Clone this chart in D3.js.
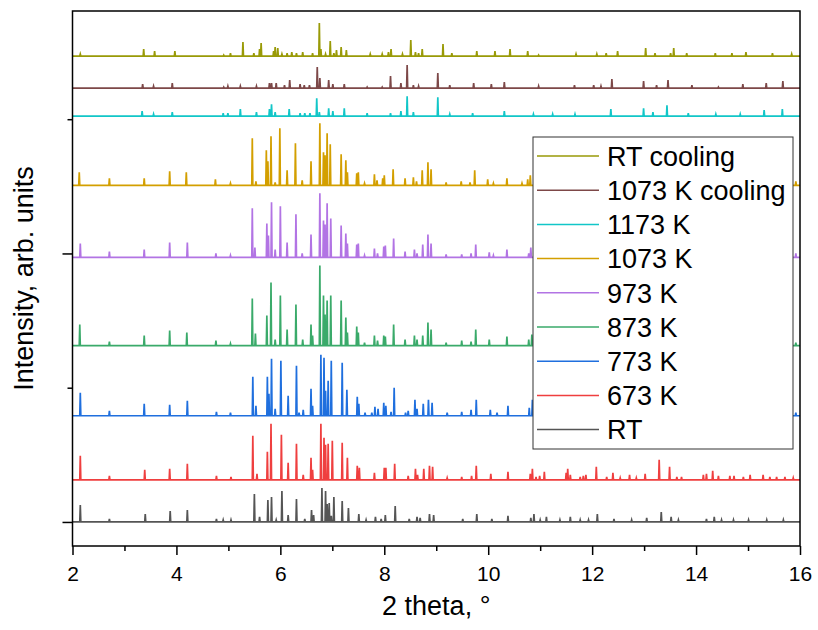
<!DOCTYPE html>
<html>
<head>
<meta charset="utf-8">
<script src="https://cdn.jsdelivr.net/npm/d3@7"></script>
<style>
  body { margin: 0; background: #fff; }
  svg { font-family: Arial, "Liberation Sans", sans-serif; }
</style>
</head>
<body>
<svg id="xrd" width="818" height="630"></svg>
<script>
const names = ["RT", "673 K", "773 K", "873 K", "973 K", "1073 K", "1173 K", "1073 K cooling", "RT cooling"];
const colors = ["#555555", "#ef3f3f", "#1f6fde", "#3aaa6a", "#b274e4", "#d39f00", "#12c6c8", "#7d4848", "#999a07"];
// baseline offset of every pattern (stacked)
const offsets = [0, 42, 106, 176, 264, 336, 405, 433, 465];

// [2theta, peak height]
const rt = [[2.15,17],[2.71,3],[3.40,8],[3.88,11],[4.21,12],[4.77,3],[4.90,2],[5.05,2],[5.50,28],[5.60,5],[5.76,22],[5.83,25],[5.92,2],[6.03,31],[6.15,7],[6.31,23],[6.47,3],[6.60,12],[6.64,7],[6.80,34],[6.87,31],[6.90,18],[6.94,19],[6.98,6],[7.03,25],[7.19,21],[7.31,14],[7.51,8],[7.65,2],[7.83,5],[7.94,3],[8.02,7],[8.21,16],[8.48,3],[8.63,5],[8.69,4],[8.87,8],[8.95,7],[9.51,3],[9.78,8],[10.07,3],[10.38,6],[10.82,4],[10.88,8],[11.00,2],[11.12,5],[11.38,2],[11.58,5],[11.77,2],[11.93,2],[12.10,8],[12.42,3],[12.76,2],[13.05,4],[13.33,10],[13.52,5],[13.66,2],[14.20,3],[14.35,5],[14.49,2],[14.72,2],[15.01,2],[15.36,2],[15.68,2]];
const k673 = [[2.15,24],[2.71,4],[3.39,10],[3.87,11],[4.21,16],[4.77,4],[5.05,3],[5.47,44],[5.55,6],[5.75,28],[5.82,56],[6.02,45],[6.15,17],[6.31,36],[6.44,5],[6.59,22],[6.62,10],[6.78,56],[6.84,42],[6.87,35],[6.92,36],[7.00,39],[7.19,37],[7.29,22],[7.48,14],[7.52,12],[7.81,7],[8.00,12],[8.03,12],[8.20,16],[8.46,4],[8.60,11],[8.64,5],[8.76,11],[8.87,14],[8.93,13],[9.21,2],[9.49,3],[9.68,4],[9.77,14],[10.05,6],[10.38,8],[10.81,6],[10.85,11],[10.92,3],[10.99,4],[11.08,8],[11.50,7],[11.53,11],[11.58,5],[11.77,3],[11.83,4],[11.88,5],[12.08,13],[12.28,3],[12.40,7],[12.54,2],[12.72,5],[12.85,2],[13.02,6],[13.29,20],[13.49,13],[13.63,3],[13.72,3],[14.14,5],[14.20,6],[14.32,9],[14.43,4],[14.65,4],[14.73,4],[14.91,3],[15.04,5],[15.29,5],[15.42,3],[15.55,3],[15.71,3],[15.87,2]];
const k773 = [[2.15,23],[2.71,5],[3.38,12],[3.87,11],[4.21,15],[4.77,4],[5.04,3],[5.47,39],[5.53,10],[5.75,39],[5.78,22],[5.83,57],[5.90,7],[6.01,55],[6.15,20],[6.31,50],[6.36,3],[6.44,6],[6.59,27],[6.62,10],[6.78,61],[6.84,58],[6.87,25],[6.92,35],[6.98,55],[7.19,53],[7.28,26],[7.48,19],[7.51,12],[7.63,3],[7.76,3],[7.82,9],[7.88,7],[7.99,13],[8.03,10],[8.13,4],[8.19,28],[8.41,3],[8.46,5],[8.59,16],[8.63,7],[8.75,12],[8.85,16],[8.92,13],[9.21,3],[9.49,4],[9.67,6],[9.77,16],[10.04,6],[10.17,3],[10.38,10],[10.79,8],[10.85,16],[11.53,9],[12.08,11],[12.40,6],[13.29,17],[13.49,11],[14.32,7],[15.04,4],[15.92,3]];
const k873 = [[2.14,21],[2.71,4],[3.38,10],[3.87,15],[4.20,13],[4.76,5],[5.04,2],[5.46,47],[5.52,12],[5.74,30],[5.82,63],[5.90,6],[6.00,50],[6.13,16],[6.30,41],[6.43,6],[6.59,21],[6.62,10],[6.76,80],[6.83,50],[6.86,31],[6.90,45],[6.97,50],[7.17,45],[7.26,28],[7.29,13],[7.47,19],[7.50,13],[7.62,3],[7.81,10],[7.87,5],[7.99,10],[8.02,9],[8.18,21],[8.40,6],[8.58,10],[8.63,6],[8.74,10],[8.84,23],[8.90,16],[9.19,3],[9.49,5],[9.67,4],[9.76,16],[10.02,6],[10.36,9],[10.78,6],[10.84,11],[11.53,8],[12.08,10],[13.29,15],[13.49,10],[14.32,6],[15.92,3]];
const k973 = [[2.15,14],[2.71,6],[3.38,8],[3.87,15],[4.21,15],[4.76,4],[5.04,2],[5.46,49],[5.51,10],[5.74,34],[5.77,22],[5.83,55],[5.90,8],[6.00,51],[6.13,15],[6.30,43],[6.42,4],[6.59,23],[6.76,64],[6.83,37],[6.86,33],[6.90,54],[6.97,39],[7.17,32],[7.26,24],[7.29,14],[7.47,13],[7.50,14],[7.62,2],[7.81,9],[7.87,4],[7.99,11],[8.02,12],[8.18,19],[8.40,6],[8.58,8],[8.63,4],[8.74,13],[8.84,23],[8.90,14],[9.19,3],[9.49,3],[9.67,4],[9.76,13],[10.02,5],[10.10,2],[10.36,8],[10.78,4],[10.82,10],[11.53,7],[12.08,9],[13.29,13],[13.49,9],[14.32,5],[15.92,4]];
const k1073 = [[2.13,13],[2.71,7],[3.38,7],[3.87,14],[4.19,13],[4.75,6],[5.04,2],[5.46,47],[5.53,4],[5.73,35],[5.76,24],[5.82,49],[5.90,3],[5.99,57],[6.13,15],[6.29,42],[6.42,5],[6.59,24],[6.76,62],[6.83,33],[6.86,30],[6.90,52],[6.96,41],[7.17,31],[7.26,25],[7.29,13],[7.47,12],[7.50,13],[7.62,2],[7.81,11],[7.86,5],[7.97,7],[8.00,10],[8.17,16],[8.40,7],[8.56,8],[8.62,4],[8.73,15],[8.84,23],[8.90,16],[9.19,3],[9.48,4],[9.65,3],[9.74,15],[9.99,6],[10.10,2],[10.36,7],[10.65,2],[10.76,6],[10.81,10],[11.53,7],[12.08,9],[13.29,12],[13.49,8],[14.32,5],[15.92,4]];
const k1173 = [[3.34,5],[3.56,2],[3.92,4],[4.90,3],[4.99,3],[5.23,7],[5.54,4],[5.79,7],[5.83,12],[5.90,4],[6.17,7],[6.38,3],[6.47,3],[6.57,3],[6.70,18],[6.75,4],[6.93,8],[7.01,5],[7.23,8],[7.67,3],[8.12,3],[8.32,5],[8.44,20],[8.56,4],[9.03,19],[9.26,2],[9.70,3],[10.31,5],[10.87,2],[11.24,2],[11.67,2],[12.36,7],[12.99,8],[13.17,4],[13.44,11],[13.85,3],[14.38,2],[14.85,2],[15.31,6],[15.66,7]];
const k1073c = [[3.35,4],[3.56,2],[3.92,5],[4.91,1],[4.99,2],[5.23,2],[5.54,2],[5.79,5],[5.83,5],[5.92,5],[6.08,3],[6.18,8],[6.38,4],[6.46,3],[6.56,3],[6.71,21],[6.76,10],[6.93,8],[7.01,4],[7.23,4],[7.67,1],[7.96,1],[8.12,12],[8.32,5],[8.44,23],[8.56,3],[8.66,2],[9.03,15],[9.26,3],[9.72,5],[10.06,4],[10.31,6],[10.97,2],[11.66,3],[12.03,3],[12.17,2],[12.38,9],[12.99,7],[13.24,3],[13.46,8],[13.92,3],[14.43,1],[14.90,4],[15.35,5],[15.67,7]];
const rtc = [[2.15,2],[3.37,7],[3.58,5],[3.97,5],[4.91,1],[5.04,3],[5.28,14],[5.49,3],[5.60,7],[5.63,13],[5.87,5],[5.90,9],[5.95,8],[6.03,2],[6.13,3],[6.22,4],[6.31,3],[6.43,4],[6.62,3],[6.75,33],[6.78,7],[6.87,2],[6.96,15],[7.03,3],[7.08,6],[7.17,9],[7.27,6],[7.73,2],[7.96,2],[8.08,4],[8.13,7],[8.35,2],[8.51,16],[8.60,4],[8.66,3],[8.73,7],[9.13,12],[9.30,3],[9.78,5],[10.13,5],[10.42,7],[10.76,5],[10.97,1],[11.69,2],[12.09,2],[12.27,3],[12.49,5],[13.03,8],[13.21,3],[13.51,3],[13.57,8],[13.82,3],[14.37,3],[14.69,3],[14.96,4],[15.47,3],[15.84,2]];

const patterns = [rt, k673, k773, k873, k973, k1073, k1173, k1073c, rtc];

const xMajor = [2, 4, 6, 8, 10, 12, 14, 16];
const xMinor = [3, 5, 7, 9, 11, 13, 15];
const yMajor = [0, 268];
const yMinor = [134, 402];

const margin = {top: 11, right: 18, bottom: 84, left: 72.5};
const width = 818, height = 630;
const halfWidth = 0.01;

const x = d3.scaleLinear()
    .domain([2, 16])
    .range([margin.left, width - margin.right]);

const y = d3.scaleLinear()
    .domain([-24, 510])
    .range([height - margin.bottom, margin.top]);

const svg = d3.select("#xrd");

svg.append("defs").append("clipPath")
    .attr("id", "plot-clip")
    .append("rect")
    .attr("x", x(2))
    .attr("y", y(510))
    .attr("width", x(16) - x(2))
    .attr("height", y(-24) - y(510));

const toPoints = (peaks, off) => {
    const pts = [[2, off]];
    peaks.forEach(([t, h]) => {
        pts.push([t - halfWidth, off], [t, off + h], [t + halfWidth, off]);
    });
    pts.push([16, off]);
    return pts;
};

const line = d3.line()
    .x(d => x(d[0]))
    .y(d => y(d[1]));

svg.append("g")
    .attr("clip-path", "url(#plot-clip)")
    .selectAll("path")
    .data(patterns)
    .join("path")
    .attr("d", (d, i) => line(toPoints(d, offsets[i])))
    .attr("fill", "none")
    .attr("stroke", (d, i) => colors[i])
    .attr("stroke-width", 1.7)
    .attr("stroke-linejoin", "miter");

// axes
const xAxis = g => g
    .attr("transform", `translate(0,${y(-24)})`)
    .call(d3.axisBottom(x).tickValues(xMajor).tickSize(9).tickPadding(11).tickFormat(d3.format("d")))
    .call(g => g.select(".domain").remove())
    .call(g => g.selectAll(".tick line").attr("stroke-width", 1.5))
    .call(g => g.selectAll(".tick text").attr("font-size", 21).attr("fill", "#000").attr("font-family", null));

const xAxisMinor = g => g
    .attr("transform", `translate(0,${y(-24)})`)
    .call(d3.axisBottom(x).tickValues(xMinor).tickSize(5).tickFormat(""))
    .call(g => g.select(".domain").remove())
    .call(g => g.selectAll(".tick line").attr("stroke-width", 1.5));

const yAxis = g => g
    .attr("transform", `translate(${x(2)},0)`)
    .call(d3.axisLeft(y).tickValues(yMajor).tickSize(10).tickFormat(""))
    .call(g => g.select(".domain").remove())
    .call(g => g.selectAll(".tick line").attr("stroke-width", 1.5));

const yAxisMinor = g => g
    .attr("transform", `translate(${x(2)},0)`)
    .call(d3.axisLeft(y).tickValues(yMinor).tickSize(5).tickFormat(""))
    .call(g => g.select(".domain").remove())
    .call(g => g.selectAll(".tick line").attr("stroke-width", 1.5));

svg.append("g").call(xAxis);
svg.append("g").call(xAxisMinor);
svg.append("g").call(yAxis);
svg.append("g").call(yAxisMinor);

svg.append("rect")
    .attr("x", x(2))
    .attr("y", y(510))
    .attr("width", x(16) - x(2))
    .attr("height", y(-24) - y(510))
    .attr("fill", "none")
    .attr("stroke", "#000")
    .attr("stroke-width", 1.5);

svg.append("text")
    .attr("x", (x(2) + x(16)) / 2)
    .attr("y", 615)
    .attr("text-anchor", "middle")
    .attr("font-size", 27)
    .text("2 theta, °");

svg.append("text")
    .attr("transform", `translate(33,${(y(-24) + y(510)) / 2}) rotate(-90)`)
    .attr("text-anchor", "middle")
    .attr("font-size", 27)
    .text("Intensity, arb. units");

// legend, top entry = last pattern
const legend = svg => {
    const order = d3.range(names.length).reverse();
    svg.append("rect")
        .attr("x", 533)
        .attr("y", 137)
        .attr("width", 260)
        .attr("height", 312)
        .attr("fill", "#fff")
        .attr("stroke", "#333")
        .attr("stroke-width", 1);
    const g = svg.selectAll("g")
        .data(order)
        .join("g")
        .attr("transform", (d, i) => `translate(0,${156 + i * 34.2})`);
    g.append("line")
        .attr("x1", 537)
        .attr("x2", 599)
        .attr("stroke", d => colors[d])
        .attr("stroke-width", 1.5);
    g.append("text")
        .attr("x", 607)
        .attr("y", 9.7)
        .attr("font-size", 27)
        .text(d => names[d]);
};

svg.append("g")
    .call(legend);
</script>
</body>
</html>
